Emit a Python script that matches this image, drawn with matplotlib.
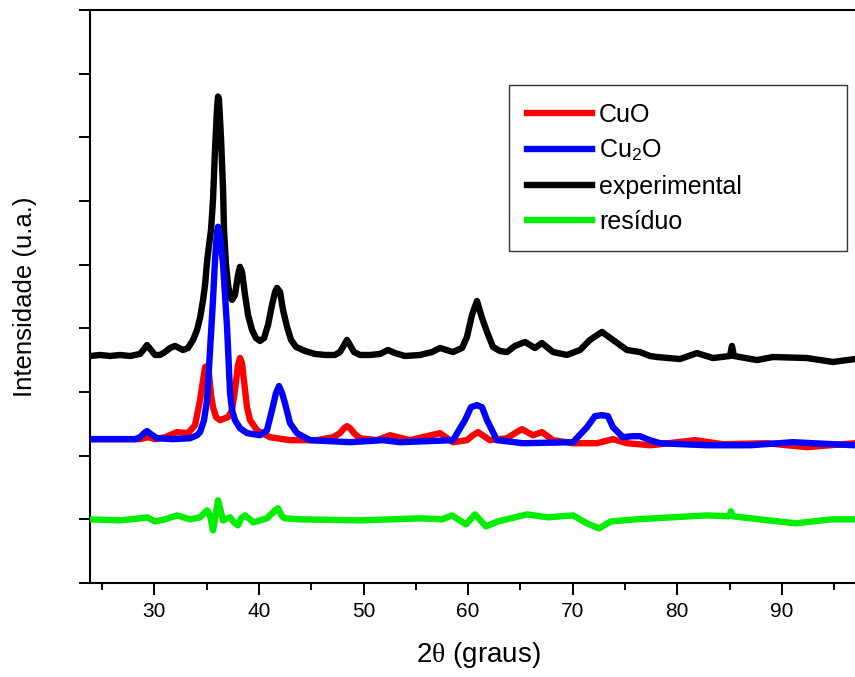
import matplotlib
matplotlib.use("Agg")
import matplotlib.pyplot as plt
from matplotlib.ticker import MultipleLocator, NullFormatter

# fonts: Arial-like text, serif theta in the x label
plt.rcParams['font.family'] = ['Liberation Sans', 'DejaVu Sans']
plt.rcParams['mathtext.fontset'] = 'custom'
plt.rcParams['mathtext.rm'] = 'Liberation Sans'
plt.rcParams['mathtext.it'] = 'Liberation Serif'

# ---- data (2theta in degrees, intensity in a.u.) ----
exp_x = [23.85, 24.81, 25.76, 26.72, 27.68, 28.63, 29.02, 29.30, 29.68, 30.07,
         30.54, 31.02, 31.50, 31.98, 32.36, 32.74, 33.22, 33.70, 34.08, 34.37,
         34.66, 34.85, 35.04, 35.23, 35.42, 35.61, 35.80, 35.99, 36.09, 36.18,
         36.38, 36.57, 36.66, 36.85, 37.05, 37.24, 37.43, 37.71, 38.00, 38.19,
         38.38, 38.67, 38.96, 39.34, 39.72, 40.10, 40.49, 40.87, 41.25, 41.54,
         41.73, 42.02, 42.30, 42.69, 43.07, 43.55, 44.41, 45.36, 46.32, 47.27,
         47.75, 48.14, 48.42, 48.71, 49.09, 49.66, 50.62, 51.58, 52.34, 53.01,
         53.97, 55.40, 56.55, 57.31, 58.56, 59.42, 59.89, 60.37, 60.85, 61.33,
         61.81, 62.38, 63.05, 63.72, 64.48, 65.44, 66.39, 67.06, 68.12, 69.45,
         70.70, 71.65, 72.80, 73.85, 75.19, 76.43, 77.39, 78.06, 80.26, 81.88,
         83.41, 85.04, 85.23, 85.42, 87.62, 89.15, 92.40, 94.88, 96.99, 98.05]
exp_y = [1283, 1291, 1283, 1291, 1283, 1299, 1338, 1369, 1330, 1291,
         1291, 1314, 1346, 1362, 1346, 1330, 1346, 1409, 1487, 1582,
         1724, 1842, 2023, 2156, 2274, 2511, 2904, 3219, 3321, 3298,
         2983, 2589, 2274, 1999, 1842, 1747, 1724, 1763, 1920, 1983,
         1944, 1763, 1605, 1487, 1424, 1401, 1424, 1527, 1684, 1786,
         1818, 1786, 1645, 1511, 1409, 1354, 1322, 1299, 1291, 1291,
         1314, 1369, 1409, 1369, 1314, 1291, 1291, 1299, 1330, 1306,
         1283, 1291, 1314, 1346, 1314, 1346, 1432, 1605, 1715, 1582,
         1472, 1354, 1322, 1314, 1362, 1393, 1346, 1385, 1314, 1291,
         1330, 1409, 1472, 1409, 1330, 1314, 1283, 1275, 1259, 1306,
         1267, 1283, 1362, 1283, 1251, 1275, 1267, 1236, 1259, 1259]

cuo_x = [23.85, 28.63, 29.40, 30.07, 31.02, 32.17, 33.22, 33.89, 34.37, 34.66,
         34.85, 35.04, 35.23, 35.42, 35.61, 35.90, 36.28, 37.05, 37.43, 37.71,
         38.00, 38.19, 38.38, 38.67, 38.86, 39.15, 39.82, 40.49, 41.06, 42.97,
         45.55, 47.08, 47.75, 48.14, 48.42, 48.71, 49.09, 49.66, 51.29, 52.53,
         54.44, 57.31, 58.27, 58.56, 59.89, 60.47, 60.95, 61.52, 62.09, 63.72,
         64.48, 65.15, 66.20, 67.06, 68.12, 70.03, 72.32, 73.85, 75.19, 77.39,
         78.35, 81.69, 84.37, 88.57, 92.40, 96.99, 98.05]
cuo_y = [630, 630, 645, 630, 645, 685, 677, 740, 937, 1094,
         1196, 1204, 1133, 976, 881, 803, 779, 803, 858, 1015,
         1212, 1267, 1228, 1015, 881, 779, 700, 669, 645, 622,
         622, 645, 677, 716, 732, 716, 677, 637, 622, 661,
         622, 677, 622, 606, 622, 661, 685, 653, 622, 637,
         677, 708, 661, 685, 622, 598, 598, 630, 598, 582,
         590, 622, 590, 598, 567, 598, 598]

cu2o_x = [23.85, 28.16, 28.63, 29.02, 29.30, 29.68, 30.26, 31.79, 33.41, 34.08,
          34.37, 34.75, 35.04, 35.23, 35.42, 35.61, 35.80, 35.99, 36.09, 36.28,
          36.57, 36.95, 37.24, 37.43, 37.71, 38.19, 38.86, 40.10, 40.77, 41.25,
          41.63, 41.92, 42.21, 42.49, 42.97, 43.64, 44.89, 48.71, 51.86, 53.49,
          58.56, 59.70, 60.28, 60.85, 61.33, 61.81, 62.76, 65.25, 70.03, 71.37,
          72.13, 72.80, 73.37, 73.85, 74.81, 75.67, 76.43, 77.39, 78.35, 82.84,
          86.95, 91.06, 92.97, 96.99, 98.05]
cu2o_y = [630, 630, 645, 677, 693, 669, 637, 630, 637, 661,
          685, 779, 937, 1196, 1464, 1724, 2038, 2259, 2298, 2235,
          1999, 1511, 992, 858, 779, 716, 677, 661, 700, 858,
          992, 1047, 992, 913, 756, 677, 622, 606, 622, 606,
          622, 779, 881, 897, 881, 779, 622, 598, 606, 724,
          811, 818, 811, 724, 645, 653, 653, 622, 598, 582,
          582, 606, 598, 582, 582]

res_x = [23.85, 26.72, 28.63, 29.30, 30.07, 31.02, 32.17, 33.41, 34.37, 35.04,
         35.32, 35.61, 35.90, 36.09, 36.38, 36.57, 37.24, 37.62, 38.00, 38.29,
         38.67, 39.15, 39.44, 40.77, 41.54, 41.83, 42.21, 42.49, 43.93, 49.66,
         55.40, 57.50, 58.46, 59.80, 60.66, 61.71, 62.86, 65.63, 67.64, 70.03,
         71.37, 72.51, 73.66, 76.05, 79.49, 82.84, 84.94, 85.13, 85.32, 87.90,
         91.34, 94.69, 96.99, 98.05]
res_y = [0, -8, 8, 16, -16, 0, 31, 0, 16, 71,
         31, -87, 55, 150, 55, -8, 16, -24, -47, 8,
         31, 0, -24, 8, 71, 87, 24, 8, 0, -8,
         8, 0, 31, -39, 39, -55, -16, 39, 16, 31,
         -31, -71, -16, 0, 16, 31, 24, 63, 24, 0,
         -31, 0, 0, 0]

labels = ['CuO', 'Cu$_2$O', 'experimental', 'resíduo']

# ---- figure ----
fig = plt.figure(figsize=(8.55, 6.77), dpi=100)
# axes runs a little past the right edge (the right spine is cut off in the picture)
ax = fig.add_axes([0.1053, 0.1388, 0.9076, 0.8464])

lw = 4.6
ax.plot(exp_x, exp_y, color='black', lw=lw, solid_joinstyle='round', zorder=2)
ax.plot(cuo_x, cuo_y, color='#ff0000', lw=lw, solid_joinstyle='round', zorder=3)
ax.plot(cu2o_x, cu2o_y, color='#0000ff', lw=lw, solid_joinstyle='round', zorder=4)
ax.plot(res_x, res_y, color='#00ee00', lw=lw, solid_joinstyle='round', zorder=3)

ax.set_xlim(23.85, 98.05)
ax.set_ylim(-500, 4000)

# ticks: labelled x majors every 10, minors every 5, bare y ticks every 500
ax.xaxis.set_major_locator(MultipleLocator(10))
ax.xaxis.set_minor_locator(MultipleLocator(5))
ax.yaxis.set_major_locator(MultipleLocator(500))
ax.yaxis.set_major_formatter(NullFormatter())
ax.tick_params(axis='x', which='major', direction='out', length=8.5, width=1.4,
               labelsize=15, pad=5)
ax.tick_params(axis='x', which='minor', direction='out', length=5, width=1.4)
ax.tick_params(axis='y', which='major', direction='out', length=8, width=1.4)

for s in ['left', 'bottom', 'top']:
    ax.spines[s].set_linewidth(1.5)
ax.spines['right'].set_visible(False)

ax.set_xlabel(r'2$\theta$ (graus)', fontsize=20, labelpad=14)
ax.set_ylabel('Intensidade (u.a.)', fontsize=18.5, labelpad=27)

# legend box stretched to the width seen in the picture
handles = [plt.Line2D([], [], color='#ff0000', lw=lw),
           plt.Line2D([], [], color='#0000ff', lw=lw),
           plt.Line2D([], [], color='black', lw=lw),
           plt.Line2D([], [], color='#00ee00', lw=lw)]
leg = ax.legend(handles, labels, loc='upper left',
                bbox_to_anchor=(0.540, 0.5845, 0.4356, 0.2846), mode='expand',
                borderaxespad=0, fontsize=18, handlelength=2.6, handletextpad=0.3,
                labelspacing=0.45, borderpad=0.7, frameon=True, fancybox=False)
leg.get_frame().set_edgecolor('black')
leg.get_frame().set_linewidth(1.0)

fig.savefig('out.png', dpi=100)
